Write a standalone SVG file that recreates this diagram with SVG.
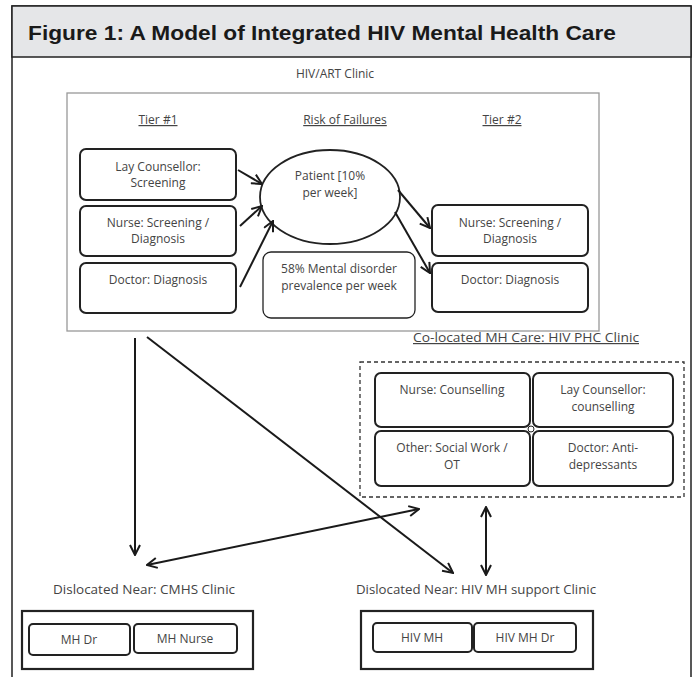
<svg xmlns="http://www.w3.org/2000/svg" width="696" height="677" viewBox="0 0 696 677">
<defs>
<style>
.t{font-family:"Open Sans","Liberation Sans",sans-serif;font-size:12px;fill:#444;text-anchor:middle}
.u{text-decoration:underline}
.box{fill:#fff;stroke:#222;stroke-width:2}
.thin{fill:#fff;stroke:#222;stroke-width:1.3}
.con{stroke:#1a1a1a;stroke-width:2;fill:none}
</style>
<marker id="ah" viewBox="0 0 12 12" refX="11" refY="6" markerWidth="12" markerHeight="12" markerUnits="userSpaceOnUse" orient="auto-start-reverse">
<path d="M1,1 L11,6 L1,11" fill="none" stroke="#1a1a1a" stroke-width="2"/>
</marker>
</defs>
<rect width="696" height="677" fill="#fff"/>
<g id="frame">
<path d="M12,677 V6 H691 V677" fill="none" stroke="#222" stroke-width="1.5"/>
<rect x="12" y="6" width="679" height="51" fill="#e5e6e8" stroke="#222" stroke-width="1.5"/>
<text x="28" y="40" font-family="Liberation Sans,Arial,sans-serif" font-weight="bold" font-size="20.5" fill="#1a1a1a" textLength="588" lengthAdjust="spacingAndGlyphs">Figure 1: A Model of Integrated HIV Mental Health Care</text>
</g>
<g id="hivart-clinic">
<text class="t" x="335" y="78">HIV/ART Clinic</text>
<rect x="67" y="93" width="532" height="238" fill="#fff" stroke="#999" stroke-width="1.3"/>
<text class="t u" x="158" y="124">Tier #1</text>
<text class="t u" x="345" y="124">Risk of Failures</text>
<text class="t u" x="502" y="124">Tier #2</text>
</g>
<g id="lay-counsellor-screening">
<rect class="box" x="80" y="149" width="156" height="51" rx="6"/>
<text class="t" x="158" y="171">Lay Counsellor:</text>
<text class="t" x="158" y="187">Screening</text>
</g>
<g id="nurse-screening-1">
<rect class="box" x="80" y="206" width="156" height="50" rx="6"/>
<text class="t" x="158" y="227">Nurse: Screening /</text>
<text class="t" x="158" y="243">Diagnosis</text>
</g>
<g id="doctor-diagnosis-1">
<rect class="box" x="80" y="263" width="156" height="50" rx="6"/>
<text class="t" x="158" y="284">Doctor: Diagnosis</text>
</g>
<g id="patient">
<ellipse cx="330" cy="197" rx="70" ry="47" fill="#fff" stroke="#222" stroke-width="1.8"/>
<text class="t" x="330" y="180">Patient [10%</text>
<text class="t" x="330" y="197">per week]</text>
</g>
<g id="prevalence">
<rect class="thin" x="263" y="252" width="152" height="66" rx="8"/>
<text class="t" x="339" y="273">58% Mental disorder</text>
<text class="t" x="339" y="290">prevalence per week</text>
</g>
<g id="nurse-screening-2">
<rect class="box" x="432" y="205" width="156" height="51" rx="6"/>
<text class="t" x="510" y="227">Nurse: Screening /</text>
<text class="t" x="510" y="243">Diagnosis</text>
</g>
<g id="doctor-diagnosis-2">
<rect class="box" x="432" y="263" width="156" height="49" rx="6"/>
<text class="t" x="510" y="284">Doctor: Diagnosis</text>
</g>
<g id="colocated-clinic">
<text class="t u" x="413" y="342" text-anchor="start" textLength="226" lengthAdjust="spacingAndGlyphs" style="text-anchor:start">Co-located MH Care: HIV PHC Clinic</text>
<rect x="360" y="362" width="324" height="135" fill="none" stroke="#333" stroke-width="1.3" stroke-dasharray="4,3"/>
</g>
<g id="nurse-counselling">
<rect class="box" x="375" y="373" width="155" height="54" rx="6"/>
<text class="t" x="452" y="394">Nurse: Counselling</text>
</g>
<g id="lay-counsellor-counselling">
<rect class="box" x="533" y="373" width="140" height="54" rx="6"/>
<text class="t" x="603" y="394">Lay Counsellor:</text>
<text class="t" x="603" y="411">counselling</text>
</g>
<g id="other-social-work">
<rect class="box" x="375" y="431" width="155" height="55" rx="6"/>
<text class="t" x="452" y="452">Other: Social Work /</text>
<text class="t" x="452" y="469">OT</text>
</g>
<g id="doctor-antidepressants">
<rect class="box" x="533" y="431" width="140" height="55" rx="6"/>
<text class="t" x="603" y="452">Doctor: Anti-</text>
<text class="t" x="603" y="469">depressants</text>
</g>
<circle cx="531" cy="429" r="3" fill="#fff" stroke="#222" stroke-width="1"/>
<g id="cmhs-clinic">
<text class="t" x="53" y="594" textLength="182" lengthAdjust="spacingAndGlyphs" style="text-anchor:start">Dislocated Near: CMHS Clinic</text>
<rect x="22" y="611" width="231" height="58" fill="#fff" stroke="#222" stroke-width="2.2"/>
<rect class="box" x="29" y="624" width="101" height="31" rx="4"/>
<text class="t" x="79" y="644">MH Dr</text>
<rect class="box" x="134" y="624" width="103" height="29" rx="4"/>
<text class="t" x="185" y="643">MH Nurse</text>
</g>
<g id="hiv-mh-support-clinic">
<text class="t" x="356" y="594" textLength="240" lengthAdjust="spacingAndGlyphs" style="text-anchor:start">Dislocated Near: HIV MH support Clinic</text>
<rect x="361" y="611" width="232" height="58" fill="#fff" stroke="#222" stroke-width="2.2"/>
<rect class="box" x="373" y="623" width="99" height="29" rx="4"/>
<text class="t" x="422" y="642">HIV MH</text>
<rect class="box" x="474" y="623" width="102" height="29" rx="4"/>
<text class="t" x="525" y="642">HIV MH Dr</text>
</g>
<g id="connectors">
<line class="con" x1="238" y1="170" x2="262" y2="184" marker-end="url(#ah)"/>
<line class="con" x1="240" y1="226" x2="262" y2="206" marker-end="url(#ah)"/>
<line class="con" x1="240" y1="287" x2="273" y2="221" marker-end="url(#ah)"/>
<line class="con" x1="398" y1="190" x2="430" y2="228" marker-end="url(#ah)"/>
<line class="con" x1="395" y1="212" x2="430" y2="273" marker-end="url(#ah)"/>
<line class="con" x1="135" y1="338" x2="135" y2="555" marker-end="url(#ah)"/>
<line class="con" x1="147" y1="337" x2="453" y2="573" marker-end="url(#ah)"/>
<line class="con" x1="147" y1="565" x2="419" y2="509" marker-start="url(#ah)" marker-end="url(#ah)"/>
<line class="con" x1="486" y1="507" x2="486" y2="575" marker-start="url(#ah)" marker-end="url(#ah)"/>
</g>
</svg>
